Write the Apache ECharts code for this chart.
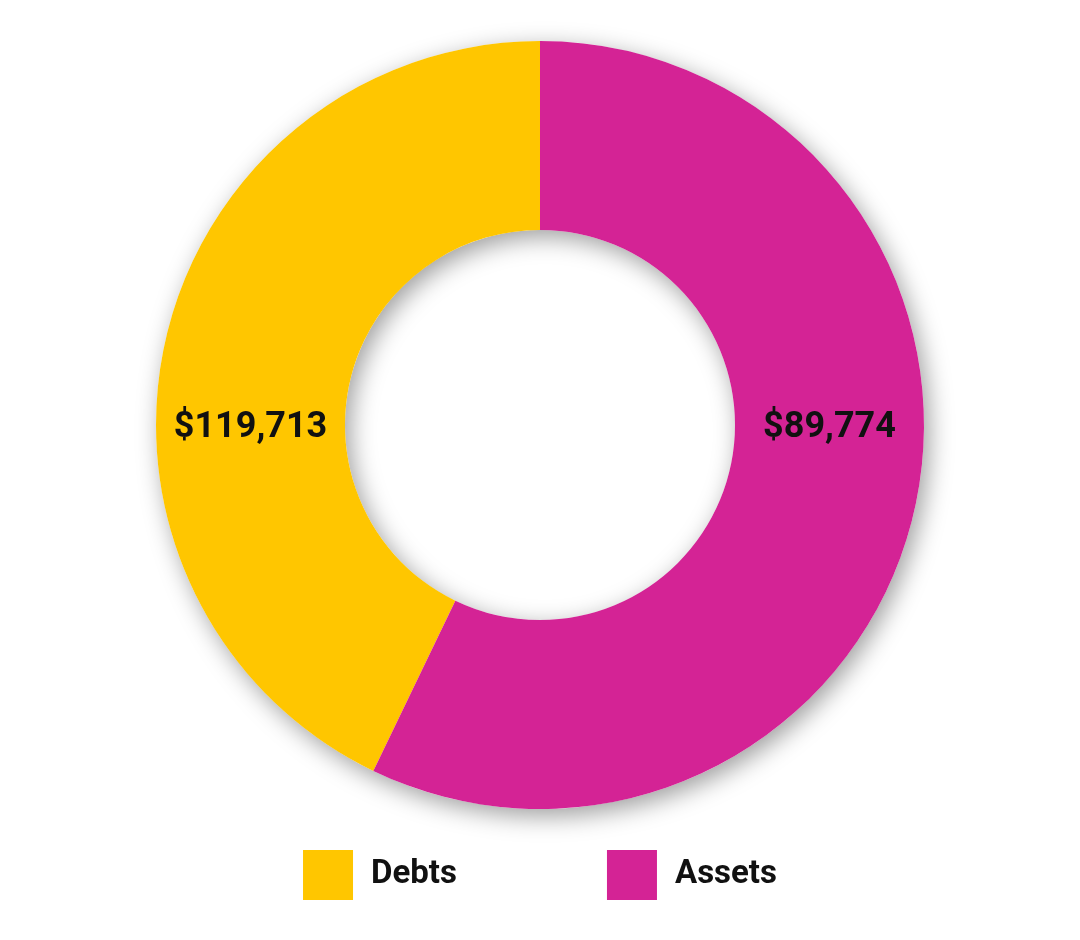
<!DOCTYPE html>
<html>
<head>
<meta charset="utf-8">
<script src="https://cdn.jsdelivr.net/npm/echarts@6/dist/echarts.min.js"></script>
<style>
html,body{margin:0;padding:0;background:#fff;}
#chart{width:1080px;height:940px;}
</style>
</head>
<body>
<div id="chart"></div>
<script>
// Categories in legend order
const categories = ['Debts', 'Assets'];
// Arc sizes as drawn in the reference (the magenta arc is the larger one)
const sliceValues = [89774, 119713];
// Amounts printed on the ring in the reference
const labelValues = [119713, 89774];
const colors = ['#FFC600', '#D42395'];

const chart = echarts.init(document.getElementById('chart'), null, {renderer: 'canvas'});
const CX = 540, CY = 425, R_IN = 195, R_OUT = 384;
const R_MID = (R_IN + R_OUT) / 2;
const FONT = 'Roboto, "Noto Sans", sans-serif';

const total = sliceValues.reduce((a, b) => a + b, 0);
const fmt = v => '$' + v.toLocaleString('en-US');

chart.setOption({
  backgroundColor: '#ffffff',
  animation: false,
  legend: {
    data: categories,
    left: 'center',
    top: 850,
    icon: 'rect',
    itemWidth: 50,
    itemHeight: 50,
    itemGap: 150,
    padding: 0,
    selectedMode: false,
    textStyle: {
      fontFamily: FONT,
      fontWeight: 'bold',
      fontSize: 33,
      color: '#111',
      padding: [0, 0, 0, 13]
    }
  },
  series: [
    {
      // shadow caster beneath the ring
      type: 'pie',
      silent: true,
      z: 1,
      center: [CX, CY],
      radius: [R_IN, R_OUT],
      label: {show: false},
      labelLine: {show: false},
      data: [{
        value: total,
        name: 'ring',
        itemStyle: {
          color: '#ffffff',
          shadowBlur: 24,
          shadowOffsetX: 5,
          shadowOffsetY: 7,
          shadowColor: 'rgba(0,0,0,0.38)'
        }
      }]
    },
    {
      type: 'pie',
      z: 2,
      center: [CX, CY],
      radius: [R_IN, R_OUT],
      startAngle: 90,
      clockwise: false,
      silent: true,
      itemStyle: {borderWidth: 0},
      label: {
        show: true,
        position: 'inside',
        formatter: p => fmt(labelValues[p.dataIndex]),
        fontFamily: FONT,
        fontWeight: 'bold',
        fontSize: 36,
        color: '#111'
      },
      labelLine: {show: false},
      labelLayout: function (p) {
        const cxLabel = p.labelRect.x + p.labelRect.width / 2;
        const side = cxLabel < CX ? -1 : 1;
        return {x: CX + side * R_MID, y: CY + 3, align: 'center', verticalAlign: 'middle'};
      },
      data: categories.map((c, i) => ({
        name: c,
        value: sliceValues[i],
        itemStyle: {color: colors[i]}
      }))
    }
  ]
});
</script>
</body>
</html>
